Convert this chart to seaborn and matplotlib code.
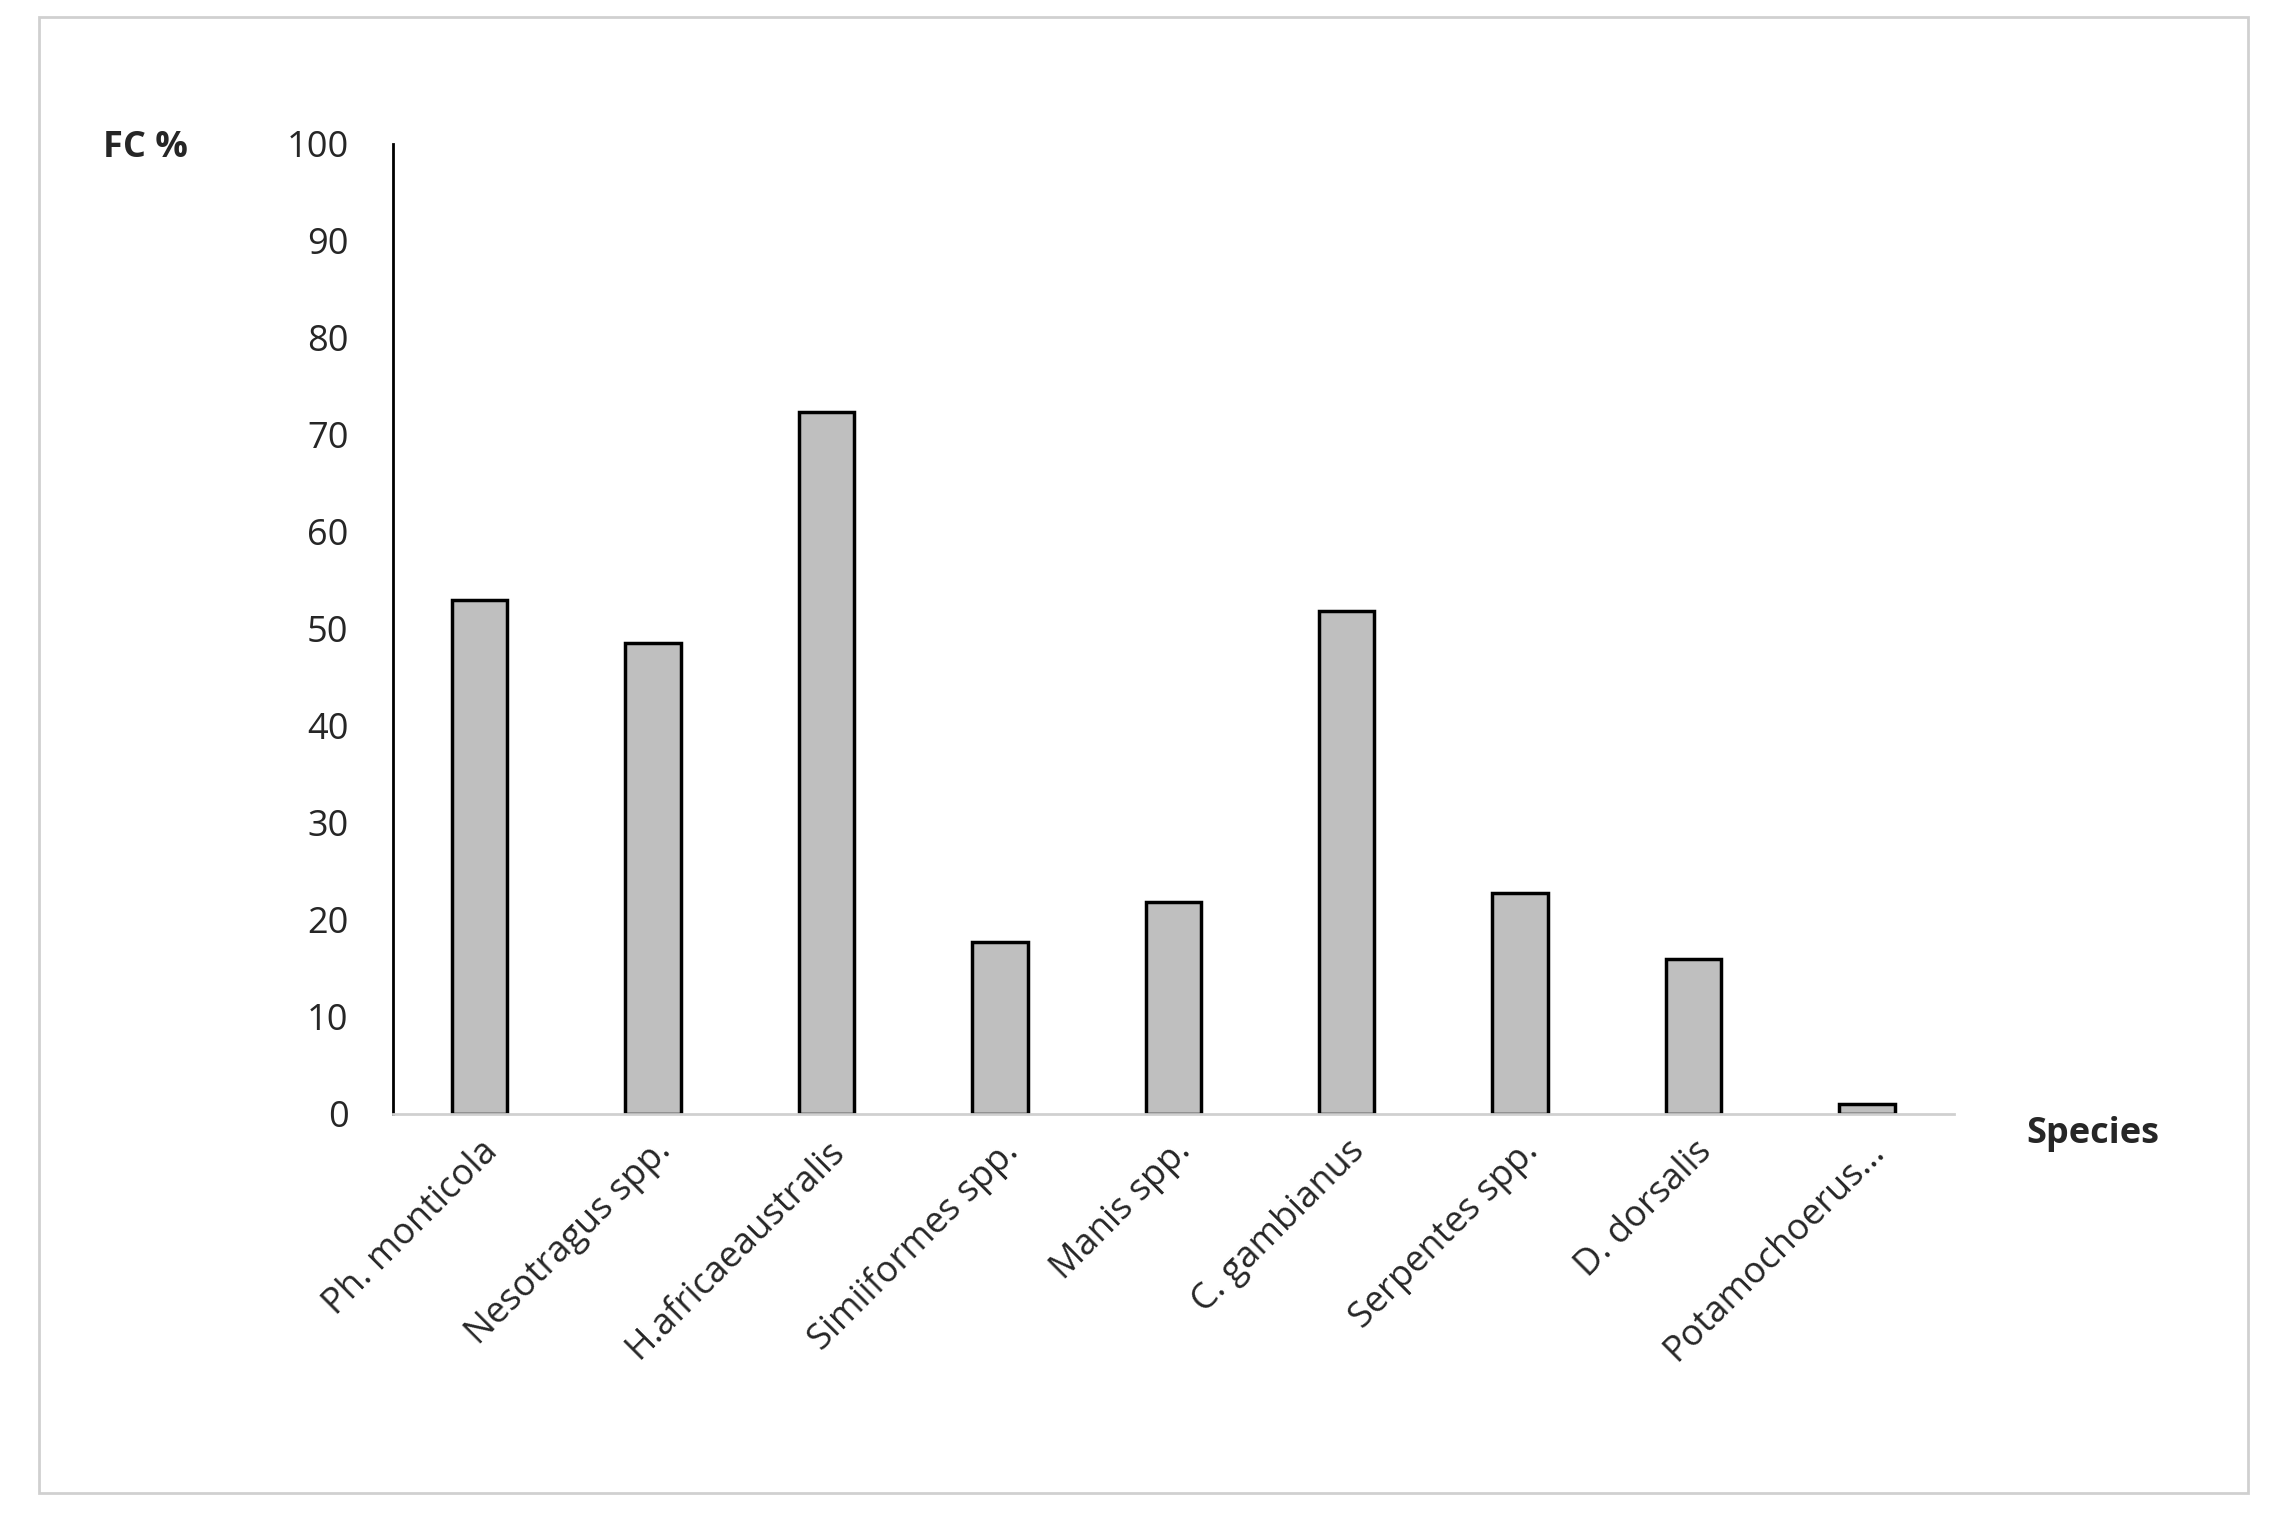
import matplotlib
matplotlib.use('Agg')
import matplotlib.pyplot as plt
import matplotlib.patches as mpatches
import seaborn as sns
import pandas as pd

species = ['Ph. monticola', 'Nesotragus spp.', 'H.africaeaustralis', 'Simiiformes spp.',
           'Manis spp.', 'C. gambianus', 'Serpentes spp.', 'D. dorsalis', 'Potamochoerus...']
fc_values = [53.0, 48.5, 72.3, 17.7, 21.8, 51.8, 22.8, 16.0, 1.0]
y_ticks = list(range(0, 101, 10))

df = pd.DataFrame({'species': species, 'fc': fc_values})

sns.set_style('white')
plt.rcParams['font.family'] = ['Open Sans', 'DejaVu Sans']

fig = plt.figure(figsize=(22.85, 15.28), dpi=100)
ax = fig.add_axes([0.172, 0.271, 0.683, 0.635])

sns.barplot(data=df, x='species', y='fc', color='#bfbfbf', edgecolor='black',
            linewidth=2.5, width=0.32, saturation=1, ax=ax)

ax.set_ylim(0, 100)
ax.set_xlim(-0.5, len(species) - 0.5)
ax.set_yticks(y_ticks)
ax.tick_params(axis='y', labelsize=26, length=0, pad=32)
ax.tick_params(axis='x', labelsize=26, length=0, pad=14)
ax.set_xticks(range(len(species)))
ax.set_xticklabels(species, rotation=45, ha='right', rotation_mode='anchor')
ax.set_xlabel('')
ax.set_ylabel('')
for side in ['top', 'right']:
    ax.spines[side].set_visible(False)
ax.spines['left'].set_color('black')
ax.spines['left'].set_linewidth(2)
ax.spines['bottom'].set_color('#d0d0d0')
ax.spines['bottom'].set_linewidth(2)

fig.text(0.045, 0.903, 'FC %', fontsize=26, fontweight='bold', va='center')
fig.text(0.887, 0.258, 'Species', fontsize=26, fontweight='bold', va='center')

# outer frame
fig.patches.append(mpatches.Rectangle((0.017, 0.023), 0.967, 0.966, transform=fig.transFigure,
                                      fill=False, edgecolor='#d0d0d0', linewidth=2))

fig.savefig('out.png', dpi=100)
